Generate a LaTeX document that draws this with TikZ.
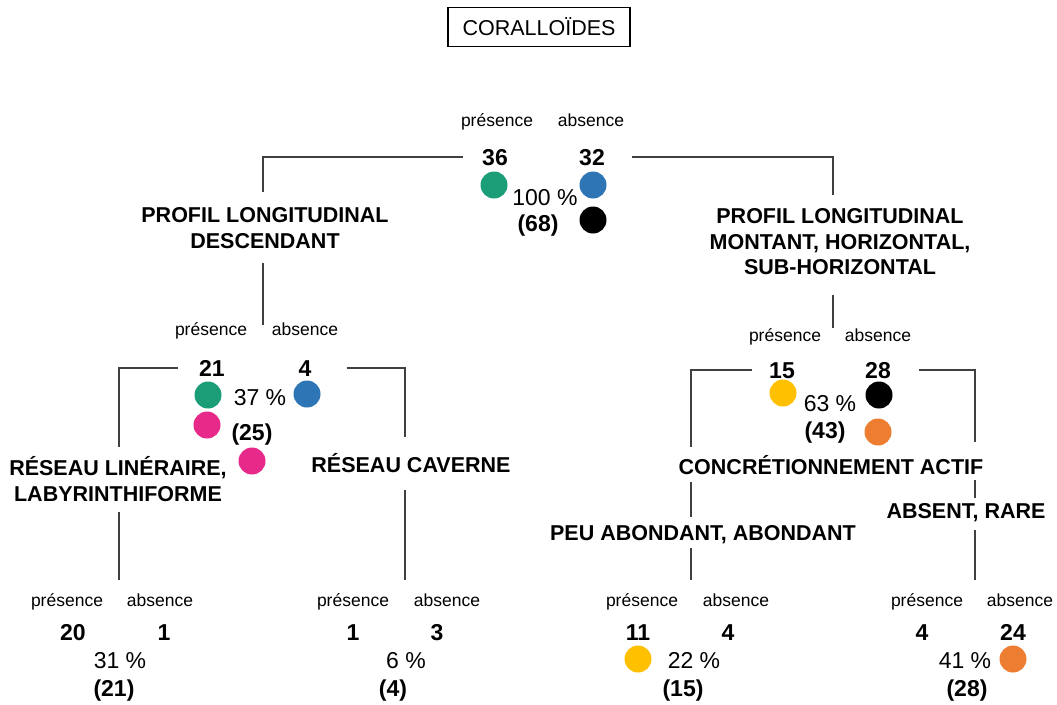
\documentclass[tikz,border=0pt]{standalone}
\usepackage{fontspec}
\setmainfont{Liberation Sans}
\usepackage{tikz}
\definecolor{vert}{HTML}{1B9E77}
\definecolor{bleu}{HTML}{2E75B6}
\definecolor{rose}{HTML}{E7298A}
\definecolor{jaune}{HTML}{FFC000}
\definecolor{orangep}{HTML}{ED7D31}
\definecolor{trait}{HTML}{404040}

\begin{document}
\begin{tikzpicture}[x=1pt, y=-1pt,
  lien/.style={draw=trait, line width=1.8pt},
  titre/.style={draw=black, line width=1.6pt, font=\fontsize{21.5}{26}\selectfont, minimum width=182pt, minimum height=39pt, inner sep=0pt},
  etiq/.style={font=\fontsize{21.5}{25.5}\selectfont\bfseries, align=center, inner sep=0pt},
  pa/.style={font=\fontsize{17.5}{20}\selectfont, text height=9.1pt, text depth=0pt, inner sep=0pt},
  nb/.style={font=\fontsize{23}{26}\selectfont\bfseries, text height=16.5pt, text depth=0pt, inner sep=0pt},
  pct/.style={font=\fontsize{23}{26}\selectfont, text height=16.5pt, text depth=0pt, inner sep=0pt},
  pastille/.style={circle, fill=#1, minimum size=27pt, inner sep=0pt}]
  \useasboundingbox (0,0) rectangle (1057,704);
  \node[titre] (titre) at (539,27) {CORALLOÏDES};

  \node[pa] (p0) at (497,122) {présence};
  \node[pa] (a0) at (591,122) {absence};
  \node[nb] (np0) at (495,157) {36};
  \node[nb] (na0) at (592,157) {32};
  \node[pastille=vert] (v0) at (494,185) {};
  \node[pastille=bleu] (b0) at (593,185) {};
  \node[pastille=black] (k0) at (593,220) {};
  \node[pct] (pc0) at (545,197) {100 \%};
  \node[nb] (t0) at (538,223) {(68)};
  \node[etiq] (l1) at (265,228) {PROFIL LONGITUDINAL\\DESCENDANT};
  \node[etiq] (l2) at (840,242) {PROFIL LONGITUDINAL\\MONTANT, HORIZONTAL,\\SUB-HORIZONTAL};

  \coordinate (c1) at (263,192);
  \coordinate (c2) at (833,195);
  \coordinate (s1) at (263,263);
  \coordinate (e1) at (263,325);
  \coordinate (s2) at (833,295);
  \coordinate (e2) at (833,328);
  \draw[lien] ([xshift=-19pt]np0.west) -| (c1);
  \draw[lien] ([xshift=27pt]na0.east) -| (c2);
  \draw[lien] (s1) -- (e1);
  \draw[lien] (s2) -- (e2);

  \node[pa] (p1) at (211,331) {présence};
  \node[pa] (a1) at (305,331) {absence};
  \node[nb] (np1) at (212,368) {21};
  \node[nb] (na1) at (305,368) {4};
  \node[pastille=vert] (v1) at (208,395) {};
  \node[pastille=bleu] (b1) at (307,394) {};
  \node[pct] (pc1) at (260,397) {37 \%};
  \node[pastille=rose] (r1) at (207,425) {};
  \node[nb] (t1) at (252,432) {(25)};
  \node[pastille=rose] (r1b) at (252,461) {};
  \node[etiq] (l3) at (118,479) {RÉSEAU LINÉRAIRE,\\LABYRINTHIFORME};
  \node[etiq] (l4) at (411,463) {RÉSEAU CAVERNE};

  \coordinate (c3) at (119,447);
  \coordinate (c4) at (405,437);
  \coordinate (s3) at (119,512);
  \coordinate (e3) at (119,580);
  \coordinate (s4) at (405,490);
  \coordinate (e4) at (405,580);
  \draw[lien] ([xshift=-21pt]np1.west) -| (c3);
  \draw[lien] ([xshift=35pt]na1.east) -| (c4);
  \draw[lien] (s3) -- (e3);
  \draw[lien] (s4) -- (e4);

  \node[pa] (p2) at (785,337) {présence};
  \node[pa] (a2) at (878,337) {absence};
  \node[nb] (np2) at (782,370) {15};
  \node[nb] (na2) at (878,370) {28};
  \node[pastille=jaune] (j2) at (783,393) {};
  \node[pastille=black] (k2) at (879,395) {};
  \node[pct] (pc2) at (830,403) {63 \%};
  \node[nb] (t2) at (825,430) {(43)};
  \node[pastille=orangep] (o2) at (878,432) {};
  \node[etiq] (l5) at (831,465) {CONCRÉTIONNEMENT ACTIF};
  \node[etiq] (l6) at (703,535) {PEU ABONDANT, ABONDANT};
  \node[etiq] (l7) at (966,513) {ABSENT, RARE};

  \coordinate (c5) at (691,447);
  \coordinate (c6) at (975,442);
  \coordinate (s5) at (691,482);
  \coordinate (e5) at (691,517);
  \coordinate (s6) at (691,548);
  \coordinate (e6) at (691,580);
  \coordinate (s7) at (975,480);
  \coordinate (e7) at (975,498);
  \coordinate (s8) at (975,530);
  \coordinate (e8) at (975,580);
  \draw[lien] ([xshift=-17pt]np2.west) -| (c5);
  \draw[lien] ([xshift=28pt]na2.east) -| (c6);
  \draw[lien] (s5) -- (e5);
  \draw[lien] (s6) -- (e6);
  \draw[lien] (s7) -- (e7);
  \draw[lien] (s8) -- (e8);

  \node[pa] (p3) at (67,602) {présence};
  \node[pa] (a3) at (160,602) {absence};
  \node[nb] (np3) at (73,632) {20};
  \node[nb] (na3) at (164,632) {1};
  \node[pct] (pc3) at (120,660) {31 \%};
  \node[nb] (t3) at (114,688) {(21)};

  \node[pa] (p4) at (353,602) {présence};
  \node[pa] (a4) at (447,602) {absence};
  \node[nb] (np4) at (353,632) {1};
  \node[nb] (na4) at (437,632) {3};
  \node[pct] (pc4) at (406,660) {6 \%};
  \node[nb] (t4) at (393,688) {(4)};

  \node[pa] (p5) at (642,602) {présence};
  \node[pa] (a5) at (736,602) {absence};
  \node[nb] (np5) at (638,632) {11};
  \node[nb] (na5) at (728,632) {4};
  \node[pastille=jaune] (j5) at (638,659) {};
  \node[pct] (pc5) at (694,660) {22 \%};
  \node[nb] (t5) at (683,688) {(15)};

  \node[pa] (p6) at (927,602) {présence};
  \node[pa] (a6) at (1020,602) {absence};
  \node[nb] (np6) at (922,632) {4};
  \node[nb] (na6) at (1013,632) {24};
  \node[pct] (pc6) at (965,660) {41 \%};
  \node[pastille=orangep] (o6) at (1013,659) {};
  \node[nb] (t6) at (967,688) {(28)};
\end{tikzpicture}
\end{document}
